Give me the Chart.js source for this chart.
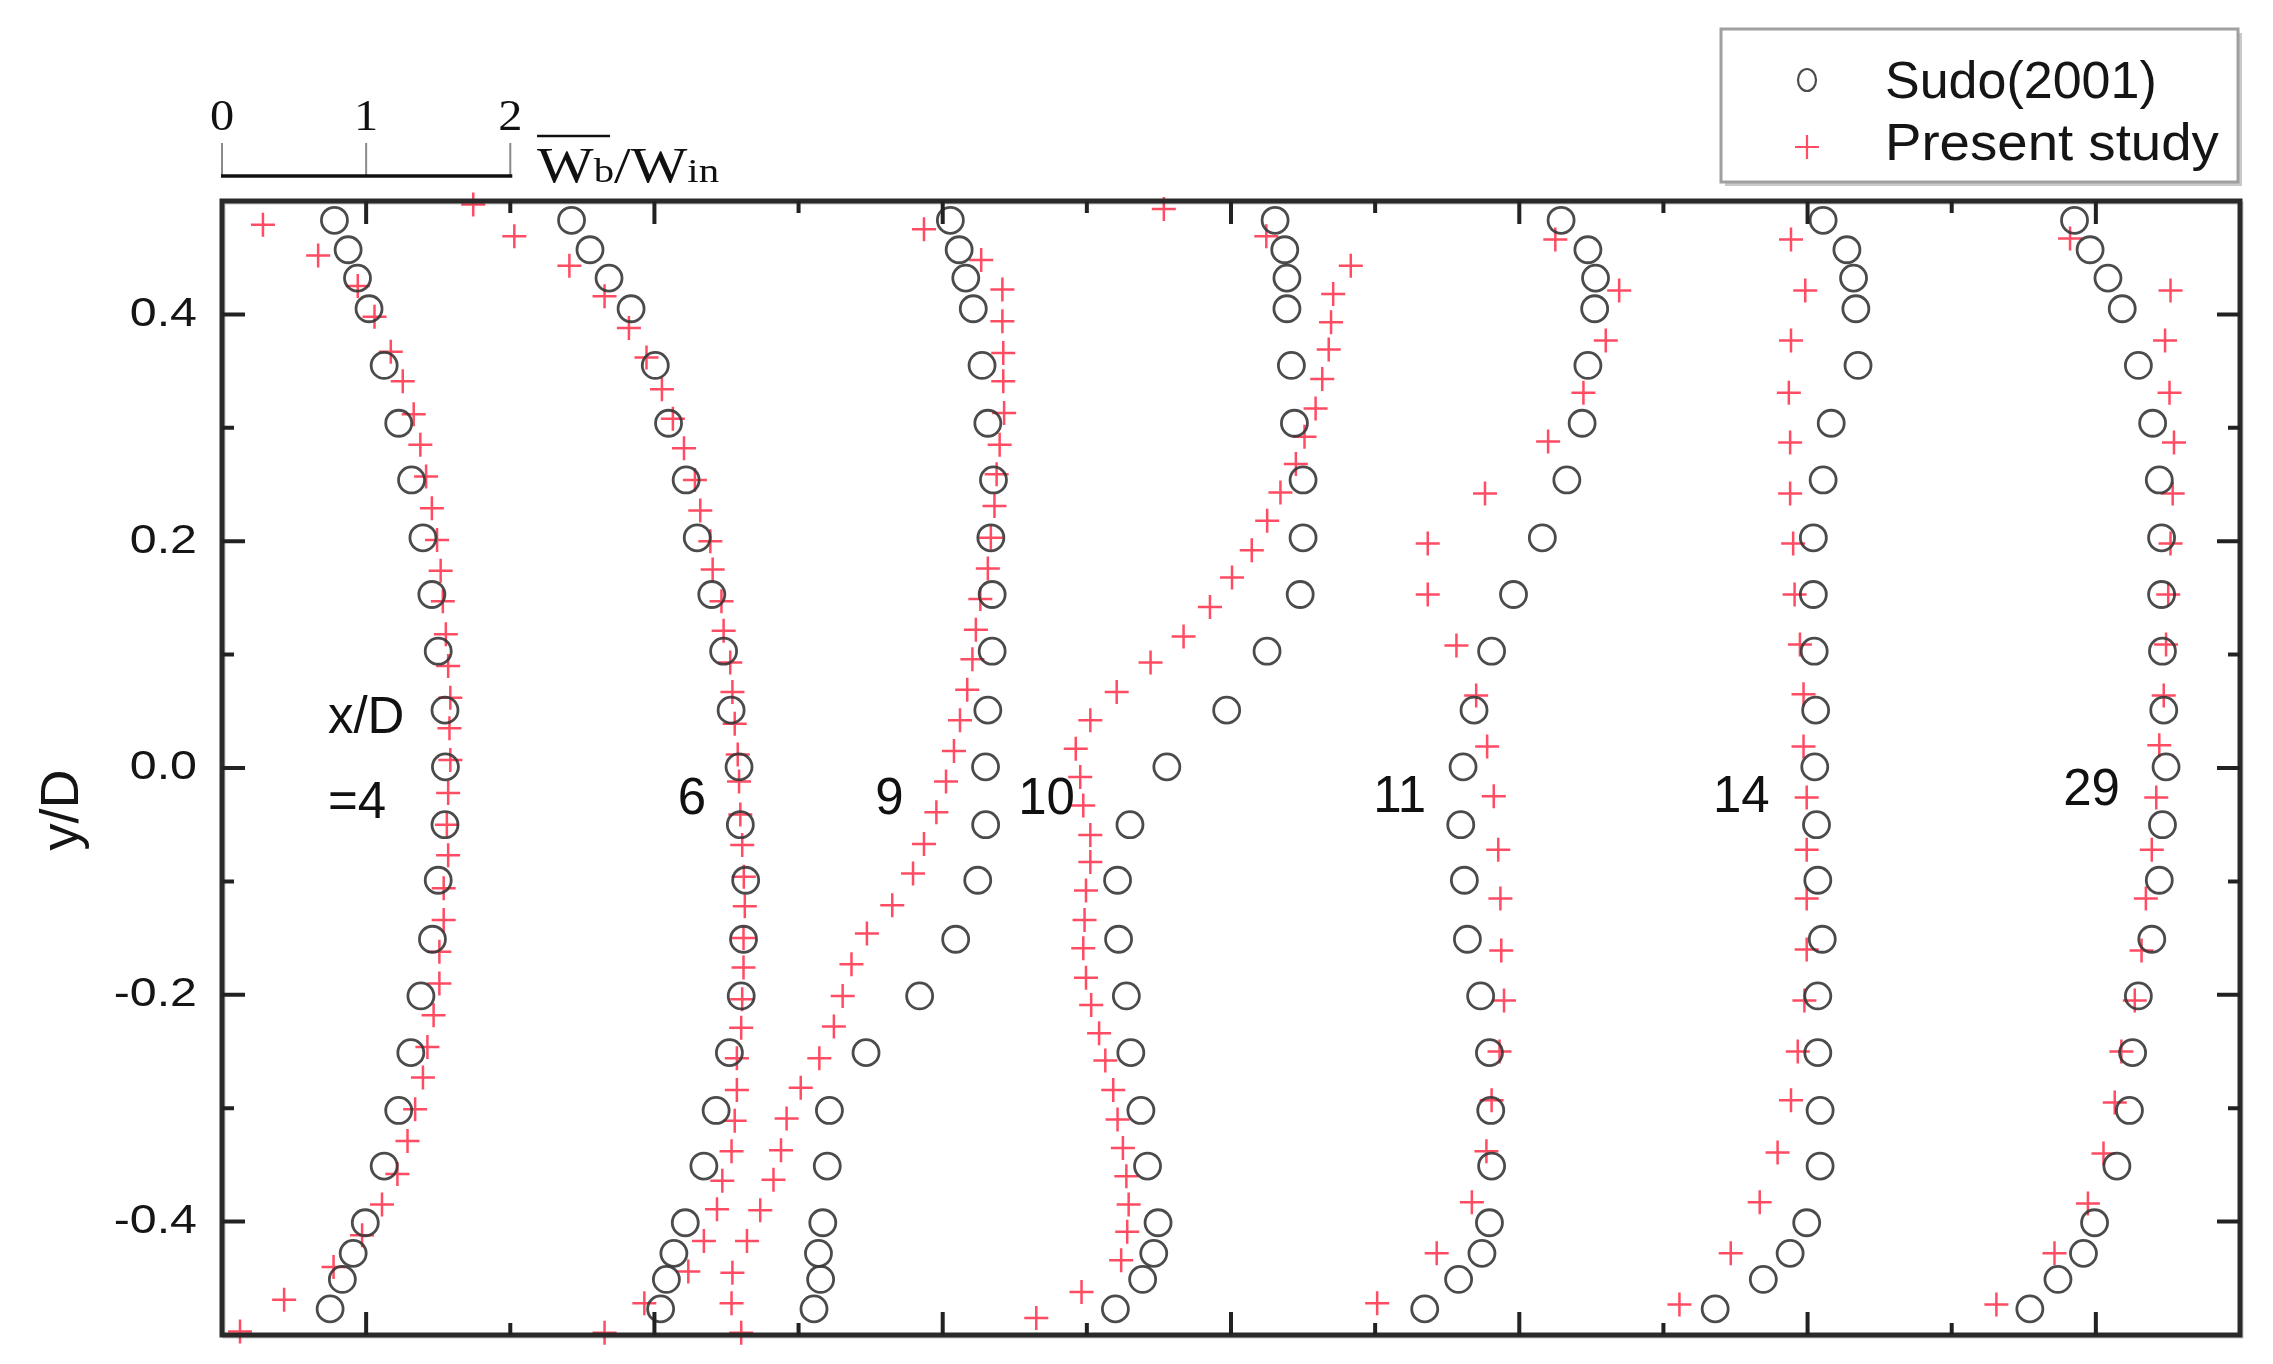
<!DOCTYPE html>
<html>
<head>
<meta charset="utf-8">
<script src="https://cdn.jsdelivr.net/npm/chart.js@4.4.0/dist/chart.umd.min.js"></script>
<style>
  html, body { margin: 0; padding: 0; background: #fff; }
  #wrap { width: 2273px; height: 1364px; position: relative; }
</style>
</head>
<body>
<div id="wrap"><canvas id="chart"></canvas></div>
<script>
// y/D positions of the Sudo (2001) circles, same for every station
const sudoY = [0.483, 0.457, 0.432, 0.405, 0.355, 0.304, 0.254, 0.203, 0.153, 0.103, 0.051, 0.001,
  -0.050, -0.099, -0.151, -0.201, -0.251, -0.302, -0.351, -0.401, -0.428, -0.451, -0.477];

// plotted abscissa (shifted W/Win) of the circles, one array per x/D station
const sudo4X = [0.78, 0.875, 0.94, 1.02, 1.125, 1.226, 1.315, 1.394, 1.456, 1.50, 1.547, 1.55,
  1.547, 1.50, 1.46, 1.38, 1.31, 1.226, 1.125, 0.994, 0.91, 0.835, 0.75];
const sudo6X = [2.425, 2.553, 2.685, 2.838, 3.006, 3.098, 3.22, 3.297, 3.398, 3.48, 3.532, 3.587,
  3.596, 3.633, 3.618, 3.602, 3.52, 3.428, 3.343, 3.214, 3.135, 3.083, 3.043];
const sudo9X = [5.053, 5.114, 5.16, 5.212, 5.273, 5.313, 5.352, 5.334, 5.343, 5.343, 5.313, 5.297,
  5.298, 5.243, 5.09, 4.84, 4.468, 4.214, 4.199, 4.168, 4.138, 4.153, 4.107];
const sudo10X = [7.306, 7.373, 7.388, 7.388, 7.419, 7.44, 7.5, 7.5, 7.48, 7.25, 6.97, 6.555,
  6.299, 6.213, 6.22, 6.274, 6.305, 6.375, 6.421, 6.494, 6.464, 6.387, 6.198];
const sudo11X = [9.29, 9.476, 9.529, 9.523, 9.476, 9.436, 9.33, 9.16, 8.96, 8.808, 8.686, 8.61,
  8.594, 8.619, 8.64, 8.732, 8.793, 8.802, 8.808, 8.793, 8.741, 8.579, 8.344];
const sudo14X = [11.108, 11.273, 11.319, 11.335, 11.35, 11.164, 11.108, 11.04, 11.04, 11.046, 11.056, 11.05,
  11.062, 11.071, 11.102, 11.071, 11.071, 11.087, 11.087, 10.994, 10.879, 10.693, 10.359];
const sudo29X = [12.852, 12.96, 13.084, 13.183, 13.295, 13.394, 13.44, 13.456, 13.456, 13.462, 13.471, 13.487,
  13.462, 13.44, 13.388, 13.295, 13.255, 13.233, 13.146, 12.991, 12.914, 12.737, 12.542];

// present study (crosses)
const pres4Y = [0.479, 0.452, 0.425, 0.398, 0.367, 0.341, 0.312, 0.285, 0.257, 0.229, 0.201, 0.174,
  0.147, 0.118, 0.090, 0.062, 0.035, 0.007, -0.022, -0.050, -0.077, -0.106, -0.134, -0.162,
  -0.190, -0.218, -0.246, -0.273, -0.301, -0.329, -0.358, -0.385, -0.412, -0.440, -0.469, -0.497];
const pres4X = [0.284, 0.667, 0.942, 1.058, 1.171, 1.254, 1.33, 1.376, 1.416, 1.456, 1.492, 1.517,
  1.532, 1.553, 1.569, 1.584, 1.578, 1.584, 1.569, 1.56, 1.569, 1.538, 1.538, 1.508,
  1.508, 1.468, 1.425, 1.394, 1.34, 1.287, 1.217, 1.11, 0.972, 0.774, 0.431, 0.125];

const pres6Y = [0.497, 0.469, 0.443, 0.416, 0.388, 0.362, 0.334, 0.308, 0.282, 0.254, 0.227, 0.200,
  0.175, 0.147, 0.121, 0.093, 0.067, 0.039, 0.012, -0.012, -0.041, -0.068, -0.096, -0.122,
  -0.150, -0.176, -0.204, -0.229, -0.256, -0.284, -0.311, -0.338, -0.364, -0.389, -0.417, -0.444, -0.472, -0.498];
const pres6X = [1.743, 2.028, 2.41, 2.654, 2.823, 2.945, 3.052, 3.128, 3.205, 3.281, 3.318, 3.388,
  3.404, 3.465, 3.48, 3.526, 3.541, 3.557, 3.578, 3.587, 3.596, 3.609, 3.62, 3.627,
  3.618, 3.618, 3.609, 3.602, 3.572, 3.572, 3.557, 3.535, 3.471, 3.434, 3.343, 3.235, 2.93, 2.654];

const pres9Y = [0.475, 0.448, 0.422, 0.394, 0.366, 0.341, 0.313, 0.285, 0.259, 0.231, 0.203, 0.176,
  0.149, 0.122, 0.096, 0.069, 0.042, 0.015, -0.012, -0.039, -0.067, -0.093, -0.121, -0.146,
  -0.173, -0.201, -0.228, -0.256, -0.282, -0.309, -0.337, -0.363, -0.390, -0.417, -0.445, -0.472, -0.498];
const pres9X = [4.87, 5.267, 5.414, 5.414, 5.42, 5.42, 5.426, 5.395, 5.374, 5.359, 5.334, 5.313,
  5.261, 5.23, 5.206, 5.17, 5.12, 5.078, 5.023, 4.956, 4.87, 4.794, 4.65, 4.474,
  4.367, 4.306, 4.245, 4.144, 4.015, 3.917, 3.878, 3.826, 3.734, 3.642, 3.541, 3.535, 3.602];

const pres10Y = [0.493, 0.469, 0.443, 0.418, 0.393, 0.369, 0.343, 0.317, 0.292, 0.268, 0.243, 0.218,
  0.192, 0.168, 0.142, 0.116, 0.093, 0.067, 0.042, 0.017, -0.008, -0.033, -0.059, -0.083,
  -0.108, -0.134, -0.159, -0.185, -0.209, -0.234, -0.258, -0.284, -0.310, -0.335, -0.360, -0.385,
  -0.409, -0.434, -0.462, -0.485];
const pres10X = [6.534, 7.245, 7.831, 7.709, 7.694, 7.678, 7.633, 7.587, 7.51, 7.45, 7.343, 7.251,
  7.144, 7.007, 6.854, 6.671, 6.442, 6.207, 6.024, 5.923, 5.954, 5.975, 6.024, 6.024,
  5.994, 5.984, 5.975, 5.994, 6.03, 6.085, 6.128, 6.183, 6.213, 6.25, 6.274, 6.29,
  6.28, 6.238, 5.963, 5.649];

const pres11Y = [0.466, 0.421, 0.377, 0.331, 0.288, 0.242, 0.198, 0.153, 0.108, 0.064, 0.019,
  -0.025, -0.072, -0.115, -0.161, -0.205, -0.250, -0.293, -0.338, -0.383, -0.428, -0.472];
const pres11X = [9.25, 9.693, 9.6, 9.445, 9.2, 8.762, 8.365, 8.365, 8.564, 8.701, 8.777,
  8.823, 8.854, 8.869, 8.875, 8.894, 8.863, 8.808, 8.772, 8.671, 8.427, 8.014];

const pres14Y = [0.466, 0.421, 0.377, 0.331, 0.287, 0.242, 0.198, 0.153, 0.109, 0.065, 0.019,
  -0.026, -0.072, -0.115, -0.160, -0.205, -0.250, -0.293, -0.339, -0.383, -0.428, -0.473];
const pres14X = [10.885, 10.984, 10.885, 10.87, 10.879, 10.879, 10.9, 10.91, 10.947, 10.972, 10.972,
  10.994, 10.994, 10.994, 10.994, 10.978, 10.932, 10.885, 10.792, 10.668, 10.467, 10.111];

const pres29Y = [0.467, 0.421, 0.377, 0.331, 0.287, 0.242, 0.198, 0.153, 0.109, 0.064, 0.020,
  -0.026, -0.072, -0.115, -0.161, -0.205, -0.250, -0.295, -0.340, -0.384, -0.428, -0.473];
const pres29X = [12.821, 13.518, 13.48, 13.511, 13.542, 13.533, 13.518, 13.502, 13.487, 13.471, 13.44,
  13.419, 13.388, 13.347, 13.317, 13.27, 13.177, 13.131, 13.053, 12.945, 12.713, 12.31];

// station labels written inside the plot
const stationLabels = ['6', '9', '10', '11', '14', '29'];
const scaleBarTicks = [0, 1, 2];

const sudoSets = [sudo4X, sudo6X, sudo9X, sudo10X, sudo11X, sudo14X, sudo29X];
const presSets = [[pres4X, pres4Y], [pres6X, pres6Y], [pres9X, pres9Y], [pres10X, pres10Y],
  [pres11X, pres11Y], [pres14X, pres14Y], [pres29X, pres29Y]];

const sudoData = [];
sudoSets.forEach(xs => xs.forEach((x, i) => sudoData.push({ x: x, y: sudoY[i] })));
const presData = [];
presSets.forEach(([xs, ys]) => xs.forEach((x, i) => presData.push({ x: x, y: ys[i] })));

const SANS = '"Liberation Sans", Arial, sans-serif';
const SERIF = '"Liberation Serif", "Times New Roman", serif';
const CIRCLE_COLOR = 'rgba(55, 55, 55, 0.9)';
const CROSS_COLOR = 'rgba(255, 45, 70, 0.85)';

function text(ctx, s, x, y, size, opts) {
  opts = opts || {};
  ctx.save();
  ctx.translate(x, y);
  if (opts.rotate) ctx.rotate(opts.rotate);
  ctx.scale(opts.sx || 1, 1);
  ctx.font = size + 'px ' + (opts.family || SANS);
  ctx.fillStyle = opts.color || '#111';
  ctx.textAlign = opts.align || 'left';
  ctx.textBaseline = opts.baseline || 'alphabetic';
  ctx.fillText(s, 0, 0);
  const w = ctx.measureText(s).width * (opts.sx || 1);
  ctx.restore();
  return w;
}

const decor = {
  id: 'decor',
  afterDatasetsDraw(chart) {
    const ctx = chart.ctx;
    const a = chart.chartArea;
    const xs = chart.scales.x, ys = chart.scales.y;

    // frame
    ctx.save();
    ctx.strokeStyle = 'rgba(0,0,0,0.22)';
    ctx.lineWidth = 3;
    ctx.strokeRect(a.left + 2, a.top + 2, a.right - a.left, a.bottom - a.top);
    ctx.strokeStyle = '#2a2a2a';
    ctx.lineWidth = 5;
    ctx.strokeRect(a.left, a.top, a.right - a.left, a.bottom - a.top);

    // inward ticks
    ctx.lineWidth = 4;
    ctx.strokeStyle = '#222';
    ctx.beginPath();
    xs.ticks.forEach(t => {
      if (t.value <= xs.min || t.value >= xs.max) return;
      const px = xs.getPixelForValue(t.value);
      const len = Math.round(t.value) % 2 === 1 ? 23 : 12;
      ctx.moveTo(px, a.bottom); ctx.lineTo(px, a.bottom - len);
      ctx.moveTo(px, a.top); ctx.lineTo(px, a.top + len);
    });
    ys.ticks.forEach(t => {
      if (t.value <= ys.min + 1e-9 || t.value >= ys.max - 1e-9) return;
      const py = ys.getPixelForValue(t.value);
      const major = Math.round(t.value * 10) % 2 === 0;
      const len = major ? 23 : 12;
      ctx.moveTo(a.left, py); ctx.lineTo(a.left + len, py);
      ctx.moveTo(a.right, py); ctx.lineTo(a.right - len, py);
    });
    ctx.stroke();
    ctx.restore();
  },
  afterDraw(chart) {
    const ctx = chart.ctx;
    const a = chart.chartArea;
    const xs = chart.scales.x, ys = chart.scales.y;

    // y tick labels
    ys.ticks.forEach(t => {
      const k = Math.round(t.value * 10);
      if (k % 2 !== 0 || Math.abs(k) >= 5) return;
      text(ctx, (k / 10).toFixed(1), a.left - 25, ys.getPixelForValue(t.value), 41,
        { align: 'right', baseline: 'middle', sx: 1.18, color: '#151515' });
    });

    // y axis title
    text(ctx, 'y/D', 63, 810, 54, { align: 'center', baseline: 'middle', rotate: -Math.PI / 2, color: '#151515' });

    // station labels
    text(ctx, 'x/D', xs.getPixelForValue(0.735), ys.getPixelForValue(0.031), 51);
    text(ctx, '=4', xs.getPixelForValue(0.735), ys.getPixelForValue(-0.044), 51);
    const lx = [3.26, 4.63, 5.72, 8.17, 10.54, 12.97];
    const ly = [-0.041, -0.041, -0.041, -0.039, -0.039, -0.033];
    stationLabels.forEach((s, i) => {
      text(ctx, s, xs.getPixelForValue(lx[i]), ys.getPixelForValue(ly[i]), 51, { align: 'center' });
    });

    // scale bar for W/Win
    ctx.save();
    const barY = 176;
    ctx.strokeStyle = '#8a8a8a';
    ctx.lineWidth = 2;
    ctx.beginPath();
    scaleBarTicks.forEach(v => {
      const px = xs.getPixelForValue(v);
      ctx.moveTo(px, barY); ctx.lineTo(px, 143);
    });
    ctx.stroke();
    ctx.strokeStyle = '#111';
    ctx.lineWidth = 3.5;
    ctx.beginPath();
    ctx.moveTo(xs.getPixelForValue(scaleBarTicks[0]) - 1, barY);
    ctx.lineTo(xs.getPixelForValue(scaleBarTicks[2]) + 2, barY);
    ctx.stroke();
    ctx.restore();
    scaleBarTicks.forEach(v => {
      text(ctx, String(v), xs.getPixelForValue(v), 130, 44, { align: 'center', family: SERIF, sx: 1.1 });
    });
    let wx = 537;
    const wStart = wx;
    wx += text(ctx, 'W', wx, 182, 50, { family: SERIF, sx: 1.2 });
    wx += text(ctx, 'b', wx, 182, 34, { family: SERIF, sx: 1.2 });
    const wEnd = wx;
    wx += text(ctx, '/', wx, 182, 50, { family: SERIF, sx: 1.2 });
    wx += text(ctx, 'W', wx, 182, 50, { family: SERIF, sx: 1.2 });
    text(ctx, 'in', wx, 182, 34, { family: SERIF, sx: 1.2 });
    ctx.save();
    ctx.strokeStyle = '#111';
    ctx.lineWidth = 2.5;
    ctx.beginPath();
    ctx.moveTo(wStart, 136); ctx.lineTo(wEnd - 4, 136);
    ctx.stroke();
    ctx.restore();

    // legend box
    ctx.save();
    ctx.fillStyle = '#c9c9c9';
    ctx.fillRect(1725, 33, 517, 153);
    ctx.fillStyle = '#fff';
    ctx.fillRect(1721, 29, 517, 153);
    ctx.strokeStyle = '#a0a0a0';
    ctx.lineWidth = 3;
    ctx.strokeRect(1721, 29, 517, 153);
    const ds = chart.data.datasets;
    ctx.strokeStyle = ds[0].borderColor;
    ctx.lineWidth = 2.2;
    ctx.beginPath();
    ctx.ellipse(1807, 80, 9, 11, 0, 0, Math.PI * 2);
    ctx.stroke();
    ctx.strokeStyle = ds[1].borderColor;
    ctx.beginPath();
    ctx.moveTo(1795, 147); ctx.lineTo(1819, 147);
    ctx.moveTo(1807, 135); ctx.lineTo(1807, 159);
    ctx.stroke();
    ctx.restore();
    text(ctx, ds[0].label, 1885, 98, 52, { color: '#151515' });
    text(ctx, ds[1].label, 1885, 160, 52, { color: '#151515', sx: 1.05 });
  }
};

new Chart(document.getElementById('chart'), {
  type: 'scatter',
  data: {
    datasets: [
      {
        label: 'Sudo(2001)',
        data: sudoData,
        pointStyle: 'circle',
        pointRadius: 13,
        pointHoverRadius: 13,
        borderWidth: 2.8,
        borderColor: CIRCLE_COLOR,
        backgroundColor: 'transparent',
        clip: false
      },
      {
        label: 'Present study',
        data: presData,
        pointStyle: 'cross',
        pointRadius: 12,
        pointHoverRadius: 12,
        borderWidth: 2.5,
        borderColor: CROSS_COLOR,
        backgroundColor: CROSS_COLOR,
        clip: false
      }
    ]
  },
  options: {
    responsive: true,
    maintainAspectRatio: false,
    animation: false,
    devicePixelRatio: 1,
    layout: { padding: { top: 201, right: 33, left: 0, bottom: 0 } },
    plugins: { legend: { display: false }, tooltip: { enabled: false } },
    scales: {
      x: {
        type: 'linear', min: 0, max: 14,
        ticks: { display: false, stepSize: 1 },
        grid: { display: false, drawTicks: false },
        border: { display: false },
        afterFit: s => { s.height = 29; }
      },
      y: {
        type: 'linear', min: -0.5, max: 0.5,
        ticks: { display: false, stepSize: 0.1 },
        grid: { display: false, drawTicks: false },
        border: { display: false },
        afterFit: s => { s.width = 222; }
      }
    }
  },
  plugins: [decor]
});
</script>
</body>
</html>
